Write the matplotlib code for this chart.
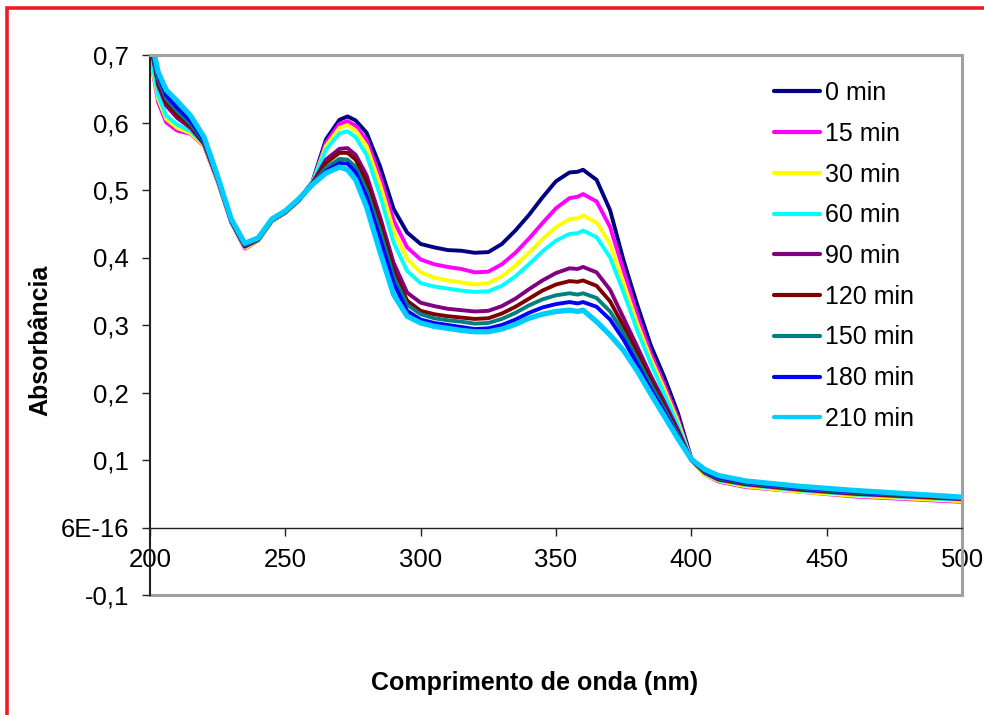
import matplotlib
matplotlib.use("Agg")
import matplotlib.pyplot as plt
from matplotlib.patches import Rectangle
from matplotlib.ticker import FixedLocator, FixedFormatter

plt.rcParams['font.family'] = ['Liberation Sans', 'DejaVu Sans']

# wavelength (nm)
wl = [200, 203, 206, 210, 215, 220, 225, 230, 235, 240, 245, 250, 255, 260, 265,
      270, 273, 276, 280, 285, 290, 295, 300, 305, 310, 315, 320, 325, 330, 335,
      340, 345, 350, 355, 358, 360, 365, 370, 375, 380, 385, 390, 395, 400, 405,
      410, 420, 440, 460, 480, 500]

a0 = [0.72, 0.67, 0.64, 0.62, 0.60, 0.57, 0.515, 0.455, 0.418, 0.428, 0.455, 0.468, 0.486, 0.512, 0.575,
      0.604, 0.609, 0.603, 0.585, 0.535, 0.472, 0.437, 0.420, 0.415, 0.411, 0.410, 0.407, 0.408, 0.420, 0.440,
      0.463, 0.489, 0.513, 0.526, 0.527, 0.530, 0.515, 0.470, 0.395, 0.330, 0.270, 0.223, 0.170, 0.102, 0.082,
      0.072, 0.064, 0.057, 0.050, 0.046, 0.042]
a15 = [0.70, 0.63, 0.60, 0.588, 0.583, 0.565, 0.512, 0.452, 0.413, 0.425, 0.453, 0.466, 0.484, 0.510, 0.570,
       0.598, 0.602, 0.595, 0.574, 0.520, 0.455, 0.415, 0.397, 0.390, 0.386, 0.383, 0.378, 0.379, 0.390, 0.407,
       0.428, 0.451, 0.473, 0.488, 0.490, 0.494, 0.483, 0.445, 0.380, 0.315, 0.258, 0.212, 0.162, 0.100, 0.078,
       0.068, 0.060, 0.053, 0.046, 0.042, 0.038]
a30 = [0.70, 0.635, 0.605, 0.592, 0.584, 0.566, 0.513, 0.452, 0.414, 0.425, 0.453, 0.466, 0.484, 0.510, 0.565,
       0.592, 0.596, 0.588, 0.565, 0.508, 0.440, 0.398, 0.378, 0.370, 0.366, 0.363, 0.360, 0.362, 0.372, 0.388,
       0.407, 0.427, 0.445, 0.457, 0.458, 0.462, 0.452, 0.420, 0.362, 0.302, 0.250, 0.205, 0.157, 0.100, 0.078,
       0.069, 0.061, 0.053, 0.047, 0.043, 0.039]
a60 = [0.705, 0.64, 0.61, 0.597, 0.587, 0.568, 0.515, 0.453, 0.416, 0.426, 0.454, 0.467, 0.485, 0.511, 0.560,
       0.584, 0.587, 0.578, 0.552, 0.492, 0.422, 0.380, 0.362, 0.357, 0.354, 0.351, 0.349, 0.350, 0.358, 0.372,
       0.390, 0.409, 0.425, 0.435, 0.436, 0.440, 0.430, 0.400, 0.348, 0.292, 0.243, 0.198, 0.152, 0.100, 0.080,
       0.070, 0.063, 0.055, 0.049, 0.045, 0.041]
a90 = [0.72, 0.655, 0.625, 0.607, 0.592, 0.568, 0.515, 0.453, 0.416, 0.426, 0.455, 0.467, 0.485, 0.510, 0.545,
       0.561, 0.562, 0.552, 0.522, 0.460, 0.392, 0.348, 0.333, 0.328, 0.324, 0.322, 0.320, 0.321, 0.328, 0.339,
       0.353, 0.366, 0.377, 0.384, 0.383, 0.386, 0.378, 0.352, 0.310, 0.268, 0.225, 0.186, 0.145, 0.100, 0.081,
       0.071, 0.064, 0.056, 0.050, 0.046, 0.042]
a120 = [0.72, 0.66, 0.63, 0.612, 0.595, 0.569, 0.516, 0.454, 0.417, 0.427, 0.455, 0.467, 0.485, 0.509, 0.540,
        0.555, 0.555, 0.545, 0.512, 0.450, 0.380, 0.336, 0.321, 0.316, 0.313, 0.311, 0.309, 0.310, 0.317, 0.327,
        0.339, 0.351, 0.360, 0.365, 0.364, 0.366, 0.358, 0.335, 0.298, 0.258, 0.218, 0.180, 0.141, 0.100, 0.082,
        0.072, 0.065, 0.057, 0.051, 0.047, 0.043]
a150 = [0.72, 0.665, 0.635, 0.617, 0.598, 0.571, 0.517, 0.455, 0.418, 0.427, 0.455, 0.467, 0.485, 0.508, 0.533,
        0.546, 0.545, 0.534, 0.500, 0.440, 0.372, 0.330, 0.316, 0.310, 0.307, 0.305, 0.302, 0.303, 0.309, 0.318,
        0.329, 0.338, 0.344, 0.347, 0.345, 0.347, 0.340, 0.320, 0.288, 0.250, 0.212, 0.176, 0.138, 0.100, 0.083,
        0.073, 0.066, 0.058, 0.052, 0.048, 0.044]
a180 = [0.72, 0.67, 0.64, 0.622, 0.602, 0.573, 0.518, 0.455, 0.419, 0.428, 0.456, 0.468, 0.486, 0.508, 0.528,
        0.540, 0.539, 0.526, 0.490, 0.428, 0.362, 0.321, 0.308, 0.303, 0.300, 0.297, 0.294, 0.295, 0.300, 0.308,
        0.318, 0.326, 0.331, 0.334, 0.332, 0.334, 0.327, 0.308, 0.278, 0.242, 0.205, 0.171, 0.135, 0.100, 0.084,
        0.074, 0.067, 0.059, 0.053, 0.049, 0.045]
a210 = [0.73, 0.675, 0.648, 0.632, 0.610, 0.578, 0.520, 0.457, 0.421, 0.429, 0.457, 0.469, 0.487, 0.508, 0.525,
        0.534, 0.530, 0.515, 0.475, 0.408, 0.345, 0.313, 0.303, 0.298, 0.295, 0.292, 0.290, 0.290, 0.294, 0.301,
        0.310, 0.316, 0.320, 0.322, 0.320, 0.322, 0.305, 0.285, 0.262, 0.232, 0.198, 0.165, 0.132, 0.101, 0.086,
        0.077, 0.069, 0.061, 0.055, 0.050, 0.045]

series = [a0, a15, a30, a60, a90, a120, a150, a180, a210]
labels = ['0 min', '15 min', '30 min', '60 min', '90 min', '120 min', '150 min', '180 min', '210 min']
colors = ['#000080', '#FF00FF', '#FFFF00', '#00FFFF', '#800080', '#800000', '#008080', '#0000FF', '#00CCFF']
widths = [2.8, 2.8, 2.8, 2.8, 2.8, 2.8, 2.8, 2.8, 3.8]

yticks = [-0.1, 0.0, 0.1, 0.2, 0.3, 0.4, 0.5, 0.6, 0.7]
ytick_labels = ['-0,1', '6E-16', '0,1', '0,2', '0,3', '0,4', '0,5', '0,6', '0,7']
xticks = [200, 250, 300, 350, 400, 450, 500]

W, H = 984, 715
fig = plt.figure(figsize=(W / 100, H / 100), dpi=100)
ax = fig.add_axes([150 / W, 1 - 595 / H, (962 - 150) / W, (595 - 55) / H])

lines = []
for y, lab, c, lw in zip(series, labels, colors, widths):
    ln, = ax.plot(wl, y, color=c, lw=lw, label=lab, solid_capstyle='round', solid_joinstyle='round')
    lines.append(ln)

ax.set_xlim(200, 500)
ax.set_ylim(-0.1, 0.7)

# frame: gray box, black left axis, x-axis drawn at y = 0
for s in ['top', 'right']:
    ax.spines[s].set_color('#A0A0A0')
    ax.spines[s].set_linewidth(2.2)
ax.spines['left'].set_color('#222222')
ax.spines['left'].set_linewidth(1.5)
ax.spines['bottom'].set_position(('data', 0))
ax.spines['bottom'].set_color('#222222')
ax.spines['bottom'].set_linewidth(1.0)
ax.axhline(-0.1, color='#A0A0A0', lw=2.2, clip_on=False, zorder=0.5)

ax.yaxis.set_major_locator(FixedLocator(yticks))
ax.yaxis.set_major_formatter(FixedFormatter(ytick_labels))
ax.xaxis.set_major_locator(FixedLocator(xticks))
ax.tick_params(axis='both', direction='out', length=6, width=1, color='#222222',
               labelsize=18.5, pad=9)

leg = ax.legend(handles=lines, loc='upper left', frameon=False, fontsize=18,
                handlelength=1.85, handletextpad=0.2, labelspacing=0.67,
                borderpad=0, borderaxespad=0,
                bbox_to_anchor=(774 / W, 1 - 81 / H), bbox_transform=fig.transFigure)
for h in leg.legend_handles:
    h.set_linewidth(3)

fig.text(535 / W, 1 - 683 / H, 'Comprimento de onda (nm)', ha='center', va='center',
         fontsize=18, fontweight='bold')
fig.text(40 / W, 1 - 340 / H, 'Absorbância', ha='center', va='center', rotation=90,
         fontsize=18, fontweight='bold')

# red outer border (left and top edges visible)
fig.patches.append(Rectangle((7 / W, -0.2), 2, 1.2 - 8 / H, transform=fig.transFigure,
                             fill=False, edgecolor='#EE1C25', lw=2.6))

fig.savefig('out.png', dpi=100)
